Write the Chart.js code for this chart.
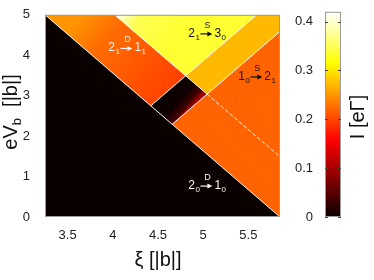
<!DOCTYPE html>
<html>
<head>
<meta charset="utf-8">
<script src="https://cdn.jsdelivr.net/npm/chart.js@4.4.0/dist/chart.umd.min.js"></script>
<style>
  html, body { margin: 0; padding: 0; background: #fff; }
  #wrap { position: relative; width: 374px; height: 280px; }
  #main { position: absolute; left: 0; top: 0; width: 285px; height: 280px; }
  #bar { position: absolute; left: 285px; top: 0; width: 89px; height: 280px; }
</style>
</head>
<body>
<div id="wrap">
  <div id="main"><canvas id="c1"></canvas></div>
  <div id="bar"><canvas id="c2"></canvas></div>
</div>
<script>
// axes
const xTicks = [3.5, 4, 4.5, 5, 5.5];
const yTicks = [0, 1, 2, 3, 4, 5];
const cbTicks = [0, 0.1, 0.2, 0.3, 0.4];
const cbMax = 0.42;

// regions of the (xi, eVb) plane, corners
const blackRegion = [[3.25, 5], [5.85, 0], [3.25, 0]];
const redStrip = [[3.25, 5], [4.02, 5], [4.806, 3.49], [4.42, 2.75]];
const darkRect = [[4.42, 2.75], [4.806, 3.49], [5.042, 3.04], [4.655, 2.29]];
const yellowTri = [[4.02, 5], [5.592, 5], [4.806, 3.49]];
const amberStrip = [[4.806, 3.49], [5.592, 5], [5.85, 5], [5.85, 4.59], [5.042, 3.04]];
const orangeRegion = [[4.655, 2.29], [5.042, 3.04], [5.85, 4.59], [5.85, 0]];

// current I [eΓ] in each region (low end / high end of the shading)
const blackCurrent = [0, 0];
const redCurrent = [0.198, 0.225, 0.25];
const darkCurrent = [0, 0.005, 0.035, 0.1];
const yellowCurrent = [0.41, 0.35, 0.335];
const amberCurrent = [0.272];
const orangeCurrent = [0.219];

// resonance lines
const lineK = [[3.25, 5], [5.85, 0]];
const lineU = [[4.02, 5], [5.042, 3.04]];
const lineUdash = [[5.042, 3.04], [5.85, 1.49]];
const lineA = [[4.655, 2.29], [5.85, 4.59]];
const lineB = [[4.42, 2.75], [5.592, 5]];

// transition labels
const transFrom = [['2', '1'], ['2', '1'], ['1', '0'], ['2', '0']];
const transOver = ['D', 'S', 'S', 'D'];
const transTo = [['1', '1'], ['3', '0'], ['2', '1'], ['1', '0']];
const transAt = [[3.950, 4.094], [4.835, 4.454], [5.388, 3.389], [4.835, 0.690]];
const transColor = ['#f4f4f4', '#111', '#111', '#f4f4f4'];

const FONT = '"Liberation Sans", Arial, sans-serif';

function hot(v) {
  const t = Math.max(0, Math.min(1, v / cbMax));
  const r = Math.min(1, 0.0417 + t / 0.375 * (1 - 0.0417));
  const g = Math.max(0, Math.min(1, (t - 0.375) / 0.375));
  const b = Math.max(0, Math.min(1, (t - 0.75) / 0.25));
  return `rgb(${Math.round(r * 255)},${Math.round(g * 255)},${Math.round(b * 255)})`;
}

function pts(arr) {
  return arr.map(p => ({x: p[0], y: p[1]}));
}

function linGrad(chart, p0, p1, values) {
  if (!chart.chartArea) return hot(values[0]);
  const x = chart.scales.x, y = chart.scales.y;
  const g = chart.ctx.createLinearGradient(
    x.getPixelForValue(p0[0]), y.getPixelForValue(p0[1]),
    x.getPixelForValue(p1[0]), y.getPixelForValue(p1[1]));
  const stops = values.length === 4 ? [0, 0.55, 0.82, 1] : [0, 0.3, 1];
  values.forEach((v, i) => g.addColorStop(values.length === 1 ? 0 : stops[i], hot(v)));
  return g;
}

function region(poly, color) {
  return {
    data: pts(poly.concat([poly[0]])),
    showLine: true,
    fill: 'shape',
    borderWidth: 0,
    borderColor: 'rgba(0,0,0,0)',
    backgroundColor: color,
    pointRadius: 0,
    pointHoverRadius: 0
  };
}

function line(seg, dash) {
  return {
    data: pts(seg),
    showLine: true,
    fill: false,
    borderWidth: 1,
    borderColor: 'rgba(255,255,255,0.92)',
    borderDash: dash || [],
    pointRadius: 0,
    pointHoverRadius: 0
  };
}

const mainDecor = {
  id: 'mainDecor',
  afterDraw(chart) {
    const ctx = chart.ctx;
    const a = chart.chartArea;
    const x = chart.scales.x, y = chart.scales.y;
    ctx.save();
    ctx.strokeStyle = '#9a9a9a';
    ctx.lineWidth = 1;
    ctx.strokeRect(a.left + 0.5, a.top + 0.5, a.right - a.left - 1, a.bottom - a.top - 1);

    // transition labels
    for (let i = 0; i < transAt.length; i++) {
      const px = x.getPixelForValue(transAt[i][0]);
      const py = y.getPixelForValue(transAt[i][1]);
      ctx.fillStyle = transColor[i];
      ctx.strokeStyle = transColor[i];
      ctx.textAlign = 'left';
      ctx.textBaseline = 'alphabetic';
      let cx = px;
      ctx.font = '12px ' + FONT;
      ctx.fillText(transFrom[i][0], cx, py);
      cx += ctx.measureText(transFrom[i][0]).width + 0.5;
      ctx.font = '8px ' + FONT;
      ctx.fillText(transFrom[i][1], cx, py + 3);
      cx += ctx.measureText(transFrom[i][1]).width + 0.5;
      const ax0 = cx, ax1 = cx + 12, ay = py - 3;
      ctx.lineWidth = 1.2;
      ctx.beginPath();
      ctx.moveTo(ax0, ay);
      ctx.lineTo(ax1 - 4, ay);
      ctx.stroke();
      ctx.beginPath();
      ctx.moveTo(ax1, ay);
      ctx.lineTo(ax1 - 5, ay - 2.5);
      ctx.lineTo(ax1 - 5, ay + 2.5);
      ctx.closePath();
      ctx.fill();
      ctx.font = '9px ' + FONT;
      ctx.textAlign = 'center';
      ctx.fillText(transOver[i], (ax0 + ax1) / 2 + 1, py - 9);
      ctx.textAlign = 'left';
      cx = ax1 + 2;
      ctx.font = '12px ' + FONT;
      ctx.fillText(transTo[i][0], cx, py);
      cx += ctx.measureText(transTo[i][0]).width + 0.5;
      ctx.font = '8px ' + FONT;
      ctx.fillText(transTo[i][1], cx, py + 3);
    }

    // axis titles
    ctx.fillStyle = '#111';
    ctx.font = '20px ' + FONT;
    ctx.textAlign = 'center';
    ctx.fillText('ξ [|b|]', 158, 266);

    ctx.translate(17, 112);
    ctx.rotate(-Math.PI / 2);
    ctx.textAlign = 'left';
    ctx.font = '20px ' + FONT;
    const w1 = ctx.measureText('eV').width;
    const w3 = ctx.measureText('  [|b|]').width;
    ctx.font = '13px ' + FONT;
    const w2 = ctx.measureText('b').width;
    let sx = -(w1 + w2 + w3) / 2;
    ctx.font = '20px ' + FONT;
    ctx.fillText('eV', sx, 0);
    ctx.font = '13px ' + FONT;
    ctx.fillText('b', sx + w1, 4);
    ctx.font = '20px ' + FONT;
    ctx.fillText('  [|b|]', sx + w1 + w2, 0);
    ctx.restore();
  }
};

new Chart(document.getElementById('c1'), {
  type: 'scatter',
  data: {
    datasets: [
      line(lineK),
      line(lineU),
      line(lineUdash, [4, 2]),
      line(lineA),
      line(lineB),
      region(blackRegion, hot(blackCurrent[0])),
      region(redStrip, c => linGrad(c.chart, [3.635, 5], [4.613, 3.12], redCurrent.slice().reverse())),
      region(darkRect, c => linGrad(c.chart, [4.613, 3.12], [4.849, 2.665], darkCurrent)),
      region(yellowTri, c => linGrad(c.chart, [4.06, 5], [4.6, 4.1], yellowCurrent)),
      region(amberStrip, hot(amberCurrent[0])),
      region(orangeRegion, hot(orangeCurrent[0]))
    ]
  },
  options: {
    responsive: true,
    maintainAspectRatio: false,
    animation: false,
    events: [],
    layout: {padding: {left: 0, right: 5, top: 9, bottom: 0}},
    plugins: {legend: {display: false}, tooltip: {enabled: false}},
    scales: {
      x: {
        type: 'linear',
        min: 3.25,
        max: 5.85,
        afterBuildTicks: s => { s.ticks = xTicks.map(v => ({value: v})); },
        afterFit: s => { s.height = 63; },
        grid: {display: false},
        border: {display: false},
        ticks: {
          color: '#222',
          font: {family: FONT, size: 13},
          padding: 3,
          maxRotation: 0,
          autoSkip: false,
          callback: v => String(v)
        }
      },
      y: {
        type: 'linear',
        min: 0,
        max: 5,
        afterBuildTicks: s => { s.ticks = yTicks.map(v => ({value: v})); },
        afterFit: s => { s.width = 45; },
        grid: {display: false},
        border: {display: false},
        ticks: {
          color: '#222',
          font: {family: FONT, size: 13},
          padding: 7,
          callback: v => String(v)
        }
      }
    }
  },
  plugins: [mainDecor]
});

// colour bar
const barDecor = {
  id: 'barDecor',
  afterDraw(chart) {
    const ctx = chart.ctx;
    const a = chart.chartArea;
    ctx.save();
    ctx.strokeStyle = '#9a9a9a';
    ctx.lineWidth = 1;
    ctx.strokeRect(a.left + 0.5, a.top + 0.5, a.right - a.left - 1, a.bottom - a.top - 1);
    ctx.strokeStyle = '#444';
    const y = chart.scales.y;
    cbTicks.forEach(v => {
      const py = Math.round(y.getPixelForValue(v)) + 0.5;
      ctx.beginPath();
      ctx.moveTo(a.right - 3, py);
      ctx.lineTo(a.right, py);
      ctx.moveTo(a.left, py);
      ctx.lineTo(a.left + 3, py);
      ctx.stroke();
    });
    ctx.fillStyle = '#111';
    ctx.font = '20px ' + FONT;
    ctx.translate(79, 117);
    ctx.rotate(-Math.PI / 2);
    ctx.textAlign = 'center';
    ctx.fillText('I [eΓ]', 0, 0);
    ctx.restore();
  }
};

new Chart(document.getElementById('c2'), {
  type: 'bar',
  data: {
    labels: ['I'],
    datasets: [{
      data: [[0, cbMax]],
      backgroundColor: c => {
        const a = c.chart.chartArea;
        if (!a) return hot(0);
        const g = c.chart.ctx.createLinearGradient(0, a.bottom, 0, a.top);
        [0, 0.375, 0.75, 1].forEach(t => g.addColorStop(t, hot(t * cbMax)));
        return g;
      },
      borderWidth: 0,
      barPercentage: 1,
      categoryPercentage: 1
    }]
  },
  options: {
    responsive: true,
    maintainAspectRatio: false,
    animation: false,
    events: [],
    layout: {padding: {left: 0, right: 33, top: 10, bottom: 63}},
    plugins: {legend: {display: false}, tooltip: {enabled: false}},
    scales: {
      x: {display: false},
      y: {
        min: 0,
        max: cbMax,
        afterBuildTicks: s => { s.ticks = cbTicks.map(v => ({value: v})); },
        afterFit: s => { s.width = 40; },
        grid: {display: false},
        border: {display: false},
        ticks: {
          color: '#222',
          font: {family: FONT, size: 13},
          padding: 4,
          callback: v => (v === 0 ? '0' : v.toFixed(1))
        }
      }
    }
  },
  plugins: [barDecor]
});
</script>
</body>
</html>
